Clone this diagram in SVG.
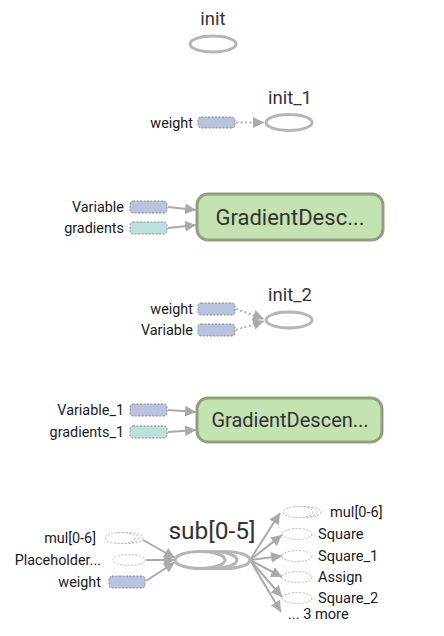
<svg xmlns="http://www.w3.org/2000/svg" width="444" height="636" viewBox="0 0 444 636">
<style>
text{font-family:Roboto,"Liberation Sans",sans-serif;}
.lbl{font-size:14.4px;fill:#1a1a1a;text-anchor:end;}
.olbl{font-size:14.6px;fill:#1a1a1a;}
.nm{font-size:18.5px;fill:#333;text-anchor:middle;}
.big{font-size:22px;fill:#333;text-anchor:middle;}
.op{fill:#fff;stroke:#b5b5b5;stroke-width:3;}
.var{fill:#b9c3de;stroke:#888;stroke-width:1;stroke-dasharray:2,1.5;}
.grad{fill:#bde0dc;stroke:#888;stroke-width:1;stroke-dasharray:2,1.5;}
.ghost{fill:#fff;stroke:#bbb;stroke-width:1;stroke-dasharray:2,1.5;}
.gd{fill:#c5e2b3;stroke:#8fa07c;stroke-width:3;}
.e{fill:none;stroke:#aaa;stroke-width:2;}
.ed{fill:none;stroke:#b5b5b5;stroke-width:2;stroke-dasharray:2,2.5;}
</style>
<defs>
<marker id="ah" viewBox="0 0 10 10" refX="10" refY="5" markerWidth="5.5" markerHeight="5.5" markerUnits="strokeWidth" orient="auto">
<path d="M0,0 L10,5 L0,10 z" fill="#aaa"/>
</marker>
</defs>
<g id="connectors">
<path class="ed" d="M236,122.5 L264,122.5" marker-end="url(#ah)"/>
<path class="e" d="M168,207 L196,210" marker-end="url(#ah)"/>
<path class="e" d="M168,228 L196,225" marker-end="url(#ah)"/>
<path class="ed" d="M236,309 L264,319" marker-end="url(#ah)"/>
<path class="ed" d="M236,330 L264,321" marker-end="url(#ah)"/>
<path class="e" d="M168,410 L196,412" marker-end="url(#ah)"/>
<path class="e" d="M168,432 L196,430" marker-end="url(#ah)"/>
<path class="e" d="M143,540 L175,558" marker-end="url(#ah)"/>
<path class="e" d="M146,560 L175,560" marker-end="url(#ah)"/>
<path class="e" d="M146,581 L175,562" marker-end="url(#ah)"/>
<path class="e" d="M250,560 L280,513" marker-end="url(#ah)"/>
<path class="e" d="M250,560 L282,535" marker-end="url(#ah)"/>
<path class="e" d="M250,560 L282,556" marker-end="url(#ah)"/>
<path class="e" d="M250,560 L282,577" marker-end="url(#ah)"/>
<path class="e" d="M250,560 L282,597" marker-end="url(#ah)"/>
<path class="e" d="M250,560 L281,612" marker-end="url(#ah)"/>
</g>
<g id="init">
<text class="nm" x="213" y="25">init</text>
<ellipse class="op" cx="213" cy="44" rx="23" ry="8"/>
</g>
<g id="init_1">
<text class="nm" x="290" y="104">init_1</text>
<ellipse class="op" cx="289" cy="122.5" rx="23" ry="8"/>
</g>
<g id="weight_a">
<text class="lbl" x="193" y="128">weight</text>
<rect class="var" x="198" y="117" width="37" height="11" rx="3"/>
</g>
<g id="GradientDesc">
<rect class="gd" x="197" y="194" width="186" height="46" rx="11"/>
<text class="big" x="290" y="225">GradientDesc...</text>
</g>
<g id="Variable_a">
<text class="lbl" x="124" y="212">Variable</text>
<rect class="var" x="130" y="201" width="37" height="12" rx="3"/>
</g>
<g id="gradients">
<text class="lbl" x="124" y="233">gradients</text>
<rect class="grad" x="130" y="222" width="37" height="12" rx="3"/>
</g>
<g id="init_2">
<text class="nm" x="290" y="301">init_2</text>
<ellipse class="op" cx="289" cy="320" rx="23" ry="8"/>
</g>
<g id="weight_b">
<text class="lbl" x="193" y="314">weight</text>
<rect class="var" x="198" y="303" width="37" height="12" rx="3"/>
</g>
<g id="Variable_b">
<text class="lbl" x="193" y="335">Variable</text>
<rect class="var" x="198" y="324" width="37" height="12" rx="3"/>
</g>
<g id="GradientDescen">
<rect class="gd" x="197" y="398" width="185" height="44" rx="11"/>
<text class="big" x="290" y="427" style="font-size:20px">GradientDescen...</text>
</g>
<g id="Variable_1">
<text class="lbl" x="124" y="415">Variable_1</text>
<rect class="var" x="130" y="404" width="37" height="12" rx="3"/>
</g>
<g id="gradients_1">
<text class="lbl" x="124" y="437">gradients_1</text>
<rect class="grad" x="130" y="426" width="37" height="12" rx="3"/>
</g>
<g id="sub">
<text x="212" y="539" style="font-size:24.5px;fill:#333;text-anchor:middle">sub[0-5]</text>
<ellipse class="op" cx="225" cy="560" rx="25" ry="8.5"/>
<ellipse class="op" cx="212" cy="560" rx="25" ry="8.5"/>
<ellipse class="op" cx="200" cy="560" rx="25" ry="8.5"/>
</g>
<g id="mul_in">
<text class="lbl" x="96" y="543">mul[0-6]</text>
<ellipse class="ghost" cx="128" cy="538" rx="15" ry="5.5"/>
<ellipse class="ghost" cx="124" cy="538" rx="15" ry="5.5"/>
<ellipse class="ghost" cx="120" cy="538" rx="15" ry="5.5"/>
</g>
<g id="Placeholder">
<text class="lbl" x="101" y="565">Placeholder...</text>
<ellipse class="ghost" cx="129" cy="560" rx="16" ry="5.5"/>
</g>
<g id="weight_c">
<text class="lbl" x="101" y="587">weight</text>
<rect class="var" x="109" y="576" width="36" height="12" rx="3"/>
</g>
<g id="mul_out">
<ellipse class="ghost" cx="306" cy="512" rx="15" ry="5.5"/>
<ellipse class="ghost" cx="302" cy="512" rx="15" ry="5.5"/>
<ellipse class="ghost" cx="298" cy="512" rx="15" ry="5.5"/>
<text class="olbl" x="330" y="517">mul[0-6]</text>
</g>
<g id="Square">
<ellipse class="ghost" cx="297" cy="534" rx="15" ry="5.5"/>
<text class="olbl" x="318" y="539">Square</text>
</g>
<g id="Square_1">
<ellipse class="ghost" cx="297" cy="556" rx="15" ry="5.5"/>
<text class="olbl" x="318" y="561">Square_1</text>
</g>
<g id="Assign">
<ellipse class="ghost" cx="297" cy="577" rx="15" ry="5.5"/>
<text class="olbl" x="318" y="582">Assign</text>
</g>
<g id="Square_2">
<ellipse class="ghost" cx="297" cy="598" rx="15" ry="5.5"/>
<text class="olbl" x="318" y="603">Square_2</text>
</g>
<g id="more">
<text class="olbl" x="288" y="619">... 3 more</text>
</g>
</svg>
